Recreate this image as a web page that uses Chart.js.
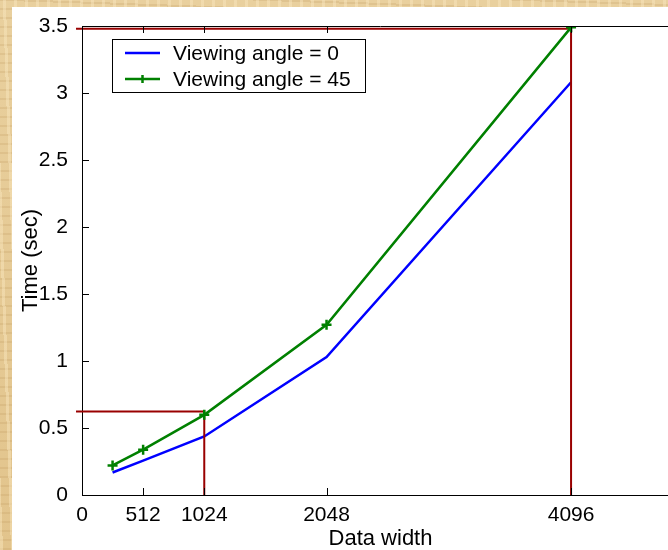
<!DOCTYPE html>
<html>
<head>
<meta charset="utf-8">
<script src="https://cdn.jsdelivr.net/npm/chart.js@4"></script>
<style>
  html, body { margin: 0; padding: 0; width: 668px; height: 550px; overflow: hidden; }
  body {
    background-color: #e6cb96;
    background-image:
      repeating-linear-gradient(88deg, rgba(250,232,192,0.45) 0 3px, rgba(0,0,0,0) 3px 11px),
      repeating-linear-gradient(2deg, rgba(185,145,85,0.2) 0 2px, rgba(0,0,0,0) 2px 9px),
      linear-gradient(180deg, #e9d09e, #e2c48c);
  }
  #panel { position: absolute; left: 12px; top: 7px; width: 680px; height: 543px; background: #fff; }
</style>
</head>
<body>
<div id="panel"><canvas id="chart" width="680" height="543"></canvas></div>
<script>
// 数据
const xValues = [256, 512, 1024, 2048, 4096];
const angle0 = [0.168, 0.257, 0.437, 1.03, 3.08];
const angle45 = [0.221, 0.338, 0.598, 1.27, 3.49];
const xTicks = [0, 512, 1024, 2048, 4096];
const yTicks = [0, 0.5, 1, 1.5, 2, 2.5, 3, 3.5];
const legendLabels = ['Viewing angle = 0', 'Viewing angle = 45'];
// 参考线（红色）
const guideSmall = [[-50, 0.623], [1024, 0.623], [1024, 0]];
const guideLarge = [[-50, 3.48], [4096, 3.48], [4096, 0]];

const FONT = 'Liberation Sans, Arial, Helvetica, sans-serif';
const toPts = (xs, ys) => xs.map((x, i) => ({ x, y: ys[i] }));
const guidePts = g => g.map(p => ({ x: p[0], y: p[1] }));

// 内向刻度 + 顶部边框
const framePlugin = {
  id: 'frame',
  afterDatasetsDraw(chart) {
    const { ctx, chartArea: a, scales } = chart;
    ctx.save();
    ctx.strokeStyle = '#000';
    ctx.lineWidth = 1;
    ctx.beginPath();
    ctx.moveTo(a.left, a.top + 0.5);
    ctx.lineTo(a.right, a.top + 0.5);
    xTicks.forEach(v => {
      const px = Math.round(scales.x.getPixelForValue(v)) + 0.5;
      ctx.moveTo(px, a.bottom); ctx.lineTo(px, a.bottom - 7);
      ctx.moveTo(px, a.top); ctx.lineTo(px, a.top + 7);
    });
    yTicks.forEach(v => {
      const py = Math.round(scales.y.getPixelForValue(v)) + 0.5;
      ctx.moveTo(a.left, py); ctx.lineTo(a.left + 7, py);
    });
    ctx.stroke();
    ctx.restore();
  }
};

// 图例（在绘图区内）
const legendPlugin = {
  id: 'boxLegend',
  afterDraw(chart) {
    const { ctx, chartArea: a } = chart;
    const items = legendLabels.map(l => chart.data.datasets.find(d => d.label === l));
    const x0 = a.left + 30, y0 = a.top + 13, w = 253, rowH = 26;
    ctx.save();
    ctx.fillStyle = '#fff';
    ctx.fillRect(x0, y0, w, 53);
    ctx.strokeStyle = '#000';
    ctx.lineWidth = 1;
    ctx.strokeRect(x0 + 0.5, y0 + 0.5, w, 53);
    ctx.font = '21px ' + FONT;
    ctx.textBaseline = 'middle';
    items.forEach((d, i) => {
      const cy = y0 + 14 + i * rowH;
      ctx.strokeStyle = d.borderColor;
      ctx.lineWidth = 2.5;
      ctx.beginPath();
      ctx.moveTo(x0 + 13, cy); ctx.lineTo(x0 + 48, cy);
      if (d.pointRadius > 0) {
        ctx.moveTo(x0 + 30.5, cy - 4); ctx.lineTo(x0 + 30.5, cy + 4);
      }
      ctx.stroke();
      ctx.fillStyle = '#000';
      ctx.fillText(d.label, x0 + 61, cy + 1);
    });
    ctx.restore();
  }
};

new Chart(document.getElementById('chart'), {
  type: 'line',
  data: {
    datasets: [
      {
        label: legendLabels[1],
        data: toPts(xValues, angle45),
        borderColor: '#008000', backgroundColor: '#008000',
        borderWidth: 2.5, pointStyle: 'cross', pointRadius: 5,
        pointBorderWidth: 2.5, tension: 0
      },
      {
        data: guidePts(guideSmall),
        borderColor: '#990000', borderWidth: 2, pointRadius: 0, clip: false
      },
      {
        data: guidePts(guideLarge),
        borderColor: '#990000', borderWidth: 2, pointRadius: 0, clip: false
      },
      {
        label: legendLabels[0],
        data: toPts(xValues, angle0),
        borderColor: '#0000ff', backgroundColor: '#0000ff',
        borderWidth: 2.5, pointRadius: 0, tension: 0
      }
    ]
  },
  options: {
    responsive: false,
    animation: false,
    layout: { padding: { left: 0, top: 19, right: 13, bottom: 0 } },
    plugins: { legend: { display: false }, tooltip: { enabled: false } },
    scales: {
      x: {
        type: 'linear', min: 0, max: 5000,
        afterBuildTicks: s => { s.ticks = xTicks.map(v => ({ value: v })); },
        afterFit: s => { s.height = 55; },
        grid: { display: false },
        border: { display: true, color: '#000', width: 1 },
        ticks: { color: '#000', font: { family: FONT, size: 21 }, padding: 0, maxRotation: 0, autoSkip: false,
                 callback: v => String(v) },
        title: { display: true, text: 'Data width', color: '#000', font: { family: FONT, size: 22 }, padding: { top: 0, bottom: -2 } }
      },
      y: {
        min: 0, max: 3.5,
        afterBuildTicks: s => { s.ticks = yTicks.map(v => ({ value: v })); },
        afterFit: s => { s.width = 70; },
        grid: { display: false },
        border: { display: true, color: '#000', width: 1 },
        ticks: { color: '#000', font: { family: FONT, size: 21 }, padding: 6, callback: v => String(v) },
        title: { display: true, text: 'Time (sec)', color: '#000', font: { family: FONT, size: 22 }, padding: { top: 6, bottom: 0 } }
      }
    }
  },
  plugins: [framePlugin, legendPlugin]
});
</script>
</body>
</html>
